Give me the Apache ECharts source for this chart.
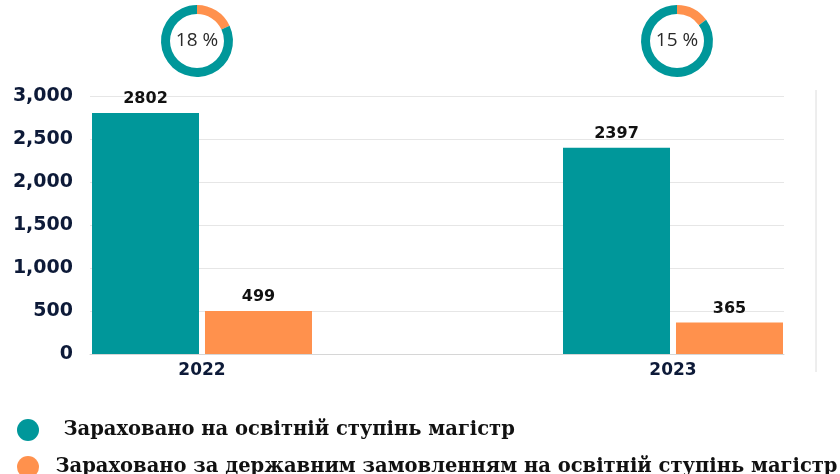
<!DOCTYPE html>
<html><head><meta charset="utf-8">
<script src="https://cdn.jsdelivr.net/npm/echarts@6/dist/echarts.min.js"></script>
<style>html,body{margin:0;padding:0;background:#fff}#c{width:840px;height:474px}</style>
</head><body><div id="c"></div>
<script>
var years = ['2022', '2023'];
var enrolled = [2802, 2397];
var stateFunded = [499, 365];
var sharePct = [18, 15];
var seriesNames = ['Зараховано на освітній ступінь магістр', 'Зараховано за державним замовленням на освітній ступінь магістр'];
var yTicks = [0, 500, 1000, 1500, 2000, 2500, 3000];

var TEAL = '#00979a', ORANGE = '#ff914d', NAVY = '#0d1a38';
var chart = echarts.init(document.getElementById('c'));

function donut(i, cx) {
  return {
    type: 'pie', radius: [27, 36], center: [cx, 41], startAngle: 90, clockwise: true,
    silent: true, avoidLabelOverlap: false, labelLine: { show: false },
    data: [
      { value: sharePct[i], itemStyle: { color: ORANGE },
        label: { show: true, position: 'center', formatter: sharePct[i] + ' %',
                 fontFamily: 'Open Sans', fontSize: 19, fontWeight: 400, color: '#2a2a2a' } },
      { value: 100 - sharePct[i], itemStyle: { color: TEAL }, label: { show: false } }
    ]
  };
}

var ellipse = 'path://M0,10a10,10 0 1,0 20,0a10,10 0 1,0 -20,0';
var legendText = { fontFamily: 'DejaVu Serif', fontWeight: 'bold', fontSize: 19.5, color: '#111' };

chart.setOption({
  animation: false,
  grid: [
    { left: 90, width: 694, top: 96, height: 258, outerBoundsMode: 'none', containLabel: false },
    { left: -33.5, width: 942, top: 96, height: 258, outerBoundsMode: 'none', containLabel: false }
  ],
  legend: [
    { data: [seriesNames[0]], left: 12, top: 414, icon: ellipse, itemWidth: 31, itemHeight: 22,
      selectedMode: false, textStyle: Object.assign({ padding: [0, 0, 0, 15] }, legendText) },
    { data: [seriesNames[1]], left: 12, top: 451, icon: ellipse, itemWidth: 31, itemHeight: 22,
      selectedMode: false, textStyle: Object.assign({ padding: [0, 0, 0, 7] }, legendText) }
  ],
  xAxis: [
    { type: 'category', gridIndex: 0, data: years, axisLabel: { show: false }, axisTick: { show: false },
      axisLine: { lineStyle: { color: '#d6d6d6' } } },
    { type: 'category', gridIndex: 1, data: years, axisTick: { show: false }, axisLine: { show: false },
      axisLabel: { fontFamily: 'DejaVu Sans', fontWeight: 'bold', fontSize: 17, color: NAVY, margin: 8 } }
  ],
  yAxis: [
    { type: 'value', gridIndex: 0, min: yTicks[0], max: yTicks[yTicks.length - 1], interval: 500,
      axisLine: { show: false }, axisTick: { show: false },
      splitLine: { lineStyle: { color: '#e6e6e6' } },
      axisLabel: { fontFamily: 'DejaVu Sans', fontWeight: 'bold', fontSize: 19, color: NAVY, margin: 17,
        formatter: function (v) { return v.toLocaleString('en-US'); } } },
    { type: 'value', gridIndex: 1, min: yTicks[0], max: yTicks[yTicks.length - 1], show: false, splitLine: { show: false } }
  ],
  graphic: [
    { type: 'line', shape: { x1: 816, y1: 90, x2: 816, y2: 372 }, style: { stroke: '#dcdcdc', lineWidth: 1 } }
  ],
  series: [
    { name: seriesNames[0], type: 'bar', xAxisIndex: 1, yAxisIndex: 1, data: enrolled,
      barWidth: 107, barGap: '5.6%', itemStyle: { color: TEAL },
      label: { show: true, position: 'top', distance: 6, fontFamily: 'DejaVu Sans', fontWeight: 'bold', fontSize: 16, color: '#111' } },
    { name: seriesNames[1], type: 'bar', xAxisIndex: 1, yAxisIndex: 1, data: stateFunded,
      barWidth: 107, barGap: '5.6%', itemStyle: { color: ORANGE },
      label: { show: true, position: 'top', distance: 6, fontFamily: 'DejaVu Sans', fontWeight: 'bold', fontSize: 16, color: '#111' } },
    donut(0, 197),
    donut(1, 677)
  ]
});
</script>
</body></html>
